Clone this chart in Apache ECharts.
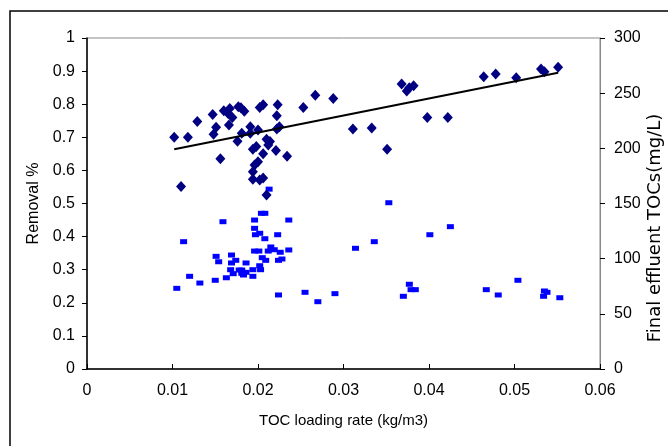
<!DOCTYPE html>
<html>
<head>
<meta charset="utf-8">
<script src="https://cdn.jsdelivr.net/npm/echarts@6/dist/echarts.min.js"></script>
<style>html,body{margin:0;padding:0;background:#fff;}#c{width:668px;height:446px;}</style>
</head>
<body>
<div id="c"></div>
<script>
// Removal % (left axis)
var removalX = [0.0102,0.0110,0.0118,0.0129,0.0147,0.0151,0.0148,0.0156,0.0160,0.0165,0.0167,0.0170,0.0166,0.0177,0.0180,0.0184,0.0176,0.0181,0.0191,0.0191,0.0200,0.0202,0.0206,0.0223,0.0222,0.0225,0.0222,0.0210,0.0214,0.0212,0.0198,0.0194,0.0206,0.0221,0.0234,0.0200,0.0196,0.0194,0.0194,0.0202,0.0206,0.0210,
  0.0253,0.0267,0.0288,0.0311,0.0333,0.0351,0.0368,0.0374,0.0377,0.0382,0.0398,0.0422,0.0464,0.0478,0.0502,0.0531,0.0535,0.0551];
var removalY = [0.700,0.551,0.700,0.748,0.769,0.730,0.709,0.635,0.780,0.772,0.787,0.760,0.737,0.792,0.789,0.779,0.688,0.712,0.732,0.712,0.722,0.790,0.798,0.798,0.765,0.732,0.725,0.694,0.687,0.677,0.672,0.664,0.650,0.660,0.643,0.626,0.616,0.596,0.573,0.571,0.577,0.526,
  0.790,0.827,0.817,0.725,0.728,0.664,0.861,0.840,0.850,0.856,0.760,0.760,0.883,0.891,0.880,0.906,0.898,0.912];
// Final effluent TOCs (right axis)
var tocX = [0.0113,0.0159,0.0105,0.0120,0.0132,0.0150,0.0151,0.0154,0.0163,0.0169,0.0174,0.0169,0.0168,0.0171,0.0178,0.0181,0.0181,0.0186,0.0183,0.0186,0.0194,0.0194,0.0196,0.0201,0.0202,0.0203,0.0205,0.0209,0.0212,0.0215,0.0219,0.0226,0.0224,0.0228,0.0224,0.0236,0.0196,0.0196,0.0197,0.0202,0.0208,0.0223,0.0204,0.0208,0.0236,0.0213,
  0.0353,0.0425,0.0401,0.0336,0.0314,0.0255,0.0270,0.0290,0.0377,0.0379,0.0384,0.0370,0.0467,0.0481,0.0504,0.0535,0.0538,0.0534,0.0553];
var tocY = [115.4,133.5,73.1,84.0,77.9,80.4,102.1,97.2,82.7,103.3,98.5,96.1,90.0,86.4,89.7,89.7,86.7,87.6,85.2,96.1,90.0,84.0,106.9,106.9,93.6,90.0,100.9,98.5,106.9,110.6,108.1,105.8,98.5,99.7,67.1,107.9,135.0,127.5,121.7,123.0,118.1,121.7,141.1,141.1,135.0,163.0,
  150.7,129.0,121.7,115.4,109.4,69.5,61.0,68.3,76.8,71.9,71.9,65.9,71.9,67.1,80.4,70.7,69.5,65.9,64.6];
// Linear trend of removal
var trendX = [0.0102, 0.0551];
var trendY = [0.664, 0.895];

function zip(a, b) { return a.map(function (v, i) { return [v, b[i]]; }); }

var FONT = 'Liberation Sans';
var chart = echarts.init(document.getElementById('c'), null, {renderer: 'canvas'});
chart.setOption({
  animation: false,
  backgroundColor: '#fff',
  textStyle: {fontFamily: FONT},
  graphic: [{
    type: 'rect', z: -10, silent: true,
    shape: {x: 10, y: 11, width: 700, height: 500},
    style: {fill: 'none', stroke: '#000', lineWidth: 1.5}
  }, {
    type: 'text', x: 655, y: 228, rotation: Math.PI / 2, silent: true,
    style: {text: 'Final effluent TOCs(mg/L)', fontSize: 18, fontFamily: 'DejaVu Sans',
      fill: '#000', align: 'center', verticalAlign: 'middle'}
  }],
  grid: {left: 87, right: 68, top: 38, bottom: 77, show: true, borderColor: '#888', borderWidth: 1},
  xAxis: {
    type: 'value', min: 0, max: 0.06, interval: 0.01,
    name: 'TOC loading rate (kg/m3)', nameLocation: 'middle', nameGap: 44,
    nameTextStyle: {fontSize: 15, color: '#000', fontFamily: FONT},
    axisLine: {lineStyle: {color: '#000', width: 1.5}},
    axisTick: {inside: true, length: 5, lineStyle: {color: '#000'}},
    axisLabel: {fontSize: 16, color: '#000', margin: 14, fontFamily: FONT,
      formatter: function (v) { return String(Math.round(v * 100) / 100); }},
    splitLine: {show: false}
  },
  yAxis: [{
    type: 'value', min: 0, max: 1, interval: 0.1,
    name: 'Removal %', nameLocation: 'middle', nameGap: 45, nameRotate: 90,
    nameTextStyle: {fontSize: 16, color: '#000', fontFamily: FONT},
    axisLine: {show: true, lineStyle: {color: '#000', width: 1.5}},
    axisTick: {show: true, inside: false, length: 5, lineStyle: {color: '#000'}},
    axisLabel: {fontSize: 16, color: '#000', margin: 12, fontFamily: FONT,
      formatter: function (v) { return String(Math.round(v * 10) / 10); }},
    splitLine: {show: false}
  }, {
    type: 'value', min: 0, max: 300, interval: 50, position: 'right',
    axisLine: {show: true, lineStyle: {color: '#888', width: 1}},
    axisTick: {show: true, inside: false, length: 5, lineStyle: {color: '#000'}},
    axisLabel: {fontSize: 16, color: '#000', margin: 14, fontFamily: FONT},
    splitLine: {show: false}
  }],
  series: [{
    type: 'scatter', yAxisIndex: 1, data: zip(tocX, tocY),
    symbol: 'rect', symbolSize: [7, 5],
    itemStyle: {color: '#0000FF', opacity: 1}
  }, {
    type: 'scatter', yAxisIndex: 0, data: zip(removalX, removalY),
    symbol: 'diamond', symbolSize: [10, 11],
    itemStyle: {color: '#000080', opacity: 1}
  }, {
    type: 'line', yAxisIndex: 0, data: zip(trendX, trendY),
    symbol: 'none', lineStyle: {color: '#000', width: 2}, z: 5
  }]
});
</script>
</body>
</html>
